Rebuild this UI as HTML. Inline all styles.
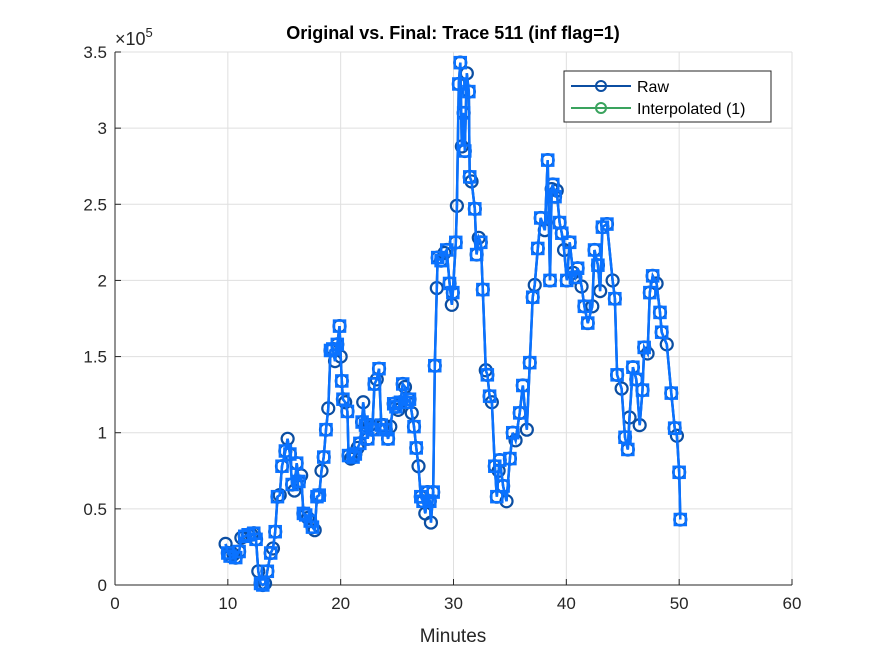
<!DOCTYPE html>
<html><head><meta charset="utf-8"><style>
body{margin:0;background:#fff;font-family:"Liberation Sans",sans-serif}
svg text{font-family:"Liberation Sans",sans-serif}
</style></head><body>
<svg id="chart" width="875" height="656" viewBox="0 0 875 656" xmlns="http://www.w3.org/2000/svg">
<rect width="875" height="656" fill="#fff"/>
<g id="grid"></g>
<g id="axes"></g>
<g id="series"></g>
<text x="453" y="39" text-anchor="middle" font-size="18" font-weight="bold" fill="#000">Original vs. Final: Trace 511 (inf flag=1)</text>
<text x="453" y="642" text-anchor="middle" font-size="19" fill="#262626">Minutes</text>
<text x="115" y="45" font-size="18" fill="#262626">×10<tspan dy="-8" font-size="13">5</tspan></text>
<g>
<rect x="564" y="71" width="207" height="51" fill="#fff" stroke="#262626" stroke-width="1"/>
<line x1="571" y1="86" x2="631" y2="86" stroke="#0b4ea2" stroke-width="2"/>
<circle cx="601" cy="86" r="5" fill="none" stroke="#0b4ea2" stroke-width="2"/>
<text x="637" y="92" font-size="16" fill="#000">Raw</text>
<line x1="571" y1="108" x2="631" y2="108" stroke="#3aa35e" stroke-width="2"/>
<circle cx="601" cy="108" r="5" fill="none" stroke="#3aa35e" stroke-width="2"/>
<text x="637" y="114" font-size="16" fill="#000">Interpolated (1)</text>
</g>
</svg>
<script>
const times=[9.8,10.0,10.2,10.5,10.7,11.0,11.2,11.5,11.8,12.1,12.3,12.5,12.7,12.9,13.1,13.3,13.5,13.8,14.0,14.2,14.4,14.6,14.8,15.1,15.3,15.5,15.7,15.9,16.1,16.3,16.5,16.7,16.9,17.1,17.3,17.5,17.7,17.9,18.1,18.3,18.5,18.7,18.9,19.1,19.3,19.5,19.7,19.9,20.0,20.1,20.2,20.4,20.6,20.7,20.9,21.1,21.3,21.5,21.7,21.9,22.0,22.2,22.4,22.6,22.8,23.0,23.2,23.4,23.6,23.8,24.0,24.2,24.4,24.7,24.9,25.1,25.3,25.5,25.7,25.9,26.1,26.3,26.5,26.7,26.9,27.1,27.3,27.5,27.7,27.9,28.0,28.2,28.34,28.52,28.6,28.9,29.2,29.4,29.65,29.85,29.94,30.2,30.3,30.47,30.6,30.74,30.9,31.0,31.18,31.36,31.44,31.6,31.89,32.05,32.24,32.42,32.6,32.86,33.0,33.2,33.4,33.66,33.84,34.0,34.1,34.4,34.7,35.0,35.25,35.5,35.87,36.14,36.5,36.76,37.02,37.2,37.47,37.73,38.09,38.35,38.55,38.7,38.8,39.0,39.15,39.4,39.6,39.8,40.04,40.3,40.6,40.8,41.0,41.35,41.6,41.9,42.3,42.5,42.8,43.0,43.2,43.6,44.1,44.3,44.5,44.9,45.2,45.45,45.6,45.9,46.2,46.5,46.75,46.9,47.2,47.4,47.65,48.0,48.3,48.45,48.9,49.3,49.6,49.8,50.0,50.1];
const rawValues=[0.27,0.21,0.19,0.20,0.18,0.22,0.31,0.32,0.33,0.33,0.34,0.30,0.09,0.01,0.0,0.01,0.09,0.21,0.24,0.35,0.58,0.59,0.78,0.88,0.96,0.86,0.66,0.62,0.80,0.68,0.72,0.47,0.46,0.44,0.42,0.38,0.36,0.58,0.59,0.75,0.84,1.02,1.16,1.54,1.55,1.47,1.58,1.70,1.50,1.34,1.22,1.20,1.14,0.85,0.83,0.84,0.86,0.90,0.93,1.07,1.20,1.05,0.96,1.05,1.02,1.32,1.35,1.42,1.05,1.05,1.02,0.96,1.04,1.19,1.17,1.15,1.20,1.32,1.30,1.20,1.22,1.13,1.04,0.90,0.78,0.58,0.55,0.47,0.61,0.55,0.41,0.61,1.44,1.95,2.15,2.13,2.18,2.20,1.98,1.84,1.92,2.25,2.49,3.29,3.43,2.88,3.10,2.85,3.36,3.24,2.68,2.65,2.47,2.17,2.28,2.25,1.94,1.41,1.38,1.24,1.20,0.78,0.58,0.75,0.82,0.65,0.55,0.83,1.00,0.95,1.13,1.31,1.02,1.46,1.89,1.97,2.21,2.41,2.33,2.79,2.00,2.60,2.63,2.55,2.59,2.38,2.31,2.20,2.00,2.25,2.05,2.02,2.08,1.96,1.83,1.72,1.83,2.20,2.10,1.93,2.35,2.37,2.00,1.88,1.38,1.29,0.97,0.89,1.10,1.43,1.35,1.05,1.28,1.56,1.52,1.92,2.03,1.98,1.79,1.66,1.58,1.26,1.03,0.98,0.74,0.43];
const xTicks=[0,10,20,30,40,50,60];
const yTicks=[0,0.5,1,1.5,2,2.5,3,3.5];
const yTickLabels=["0","0.5","1","1.5","2","2.5","3","3.5"];

const NS="http://www.w3.org/2000/svg";
const L=115,R=792,T=52,B=585;
function xs(v){return L+(v-0)/(60-0)*(R-L);}
function ys(v){return B-(v-0)/(3.5-0)*(B-T);}
function mk(tag,attrs,parent){const e=document.createElementNS(NS,tag);for(const k in attrs)e.setAttribute(k,attrs[k]);parent.appendChild(e);return e;}
const grid=document.getElementById('grid'),axes=document.getElementById('axes'),ser=document.getElementById('series');
mk('rect',{x:L,y:T,width:R-L,height:B-T,fill:'#fff'},grid);
xTicks.forEach(t=>{
  const g=mk('line',{x1:xs(t),y1:T,x2:xs(t),y2:B,stroke:'#dfdfdf','stroke-width':1},grid);
  
  
  mk('line',{x1:xs(t),y1:B,x2:xs(t),y2:B-6,stroke:'#262626'},axes);
  const tx=mk('text',{x:xs(t),y:B+24,'text-anchor':'middle','font-size':'17',fill:'#262626'},axes);
  tx.textContent=t;
  
  
});
yTicks.forEach((t,i)=>{
  const g=mk('line',{x1:L,y1:ys(t),x2:R,y2:ys(t),stroke:'#dfdfdf','stroke-width':1},grid);
  
  
  mk('line',{x1:L,y1:ys(t),x2:L+6,y2:ys(t),stroke:'#262626'},axes);
  const tx=mk('text',{x:L-8,y:ys(t)+6,'text-anchor':'end','font-size':'17',fill:'#262626'},axes);
  tx.textContent=yTickLabels[i];
  
  
});
const xa=mk('line',{x1:L,y1:B,x2:R,y2:B,stroke:'#262626'},axes);


const ya=mk('line',{x1:L,y1:T,x2:L,y2:B,stroke:'#262626'},axes);



const pts=times.map((t,i)=>xs(t).toFixed(1)+','+ys(rawValues[i]).toFixed(1)).join(' ');
const rawLine=mk('polyline',{points:pts,fill:'none',stroke:'#0b4ea2','stroke-width':2.5},ser);


times.forEach((t,i)=>{
  const c=mk('circle',{cx:xs(t),cy:ys(rawValues[i]),r:6,fill:'none',stroke:'#0b4ea2','stroke-width':2.2},ser);
  
  
});
const fLine=mk('polyline',{points:pts,fill:'none',stroke:'#0a72ff','stroke-width':2.5},ser);


times.forEach((t,i)=>{
  if(i%3===0)return;
  const s=mk('rect',{x:xs(t)-5.5,y:ys(rawValues[i])-5.5,width:11,height:11,fill:'none',stroke:'#0a72ff','stroke-width':2.5},ser);
  
  
});
</script>
</body></html>
